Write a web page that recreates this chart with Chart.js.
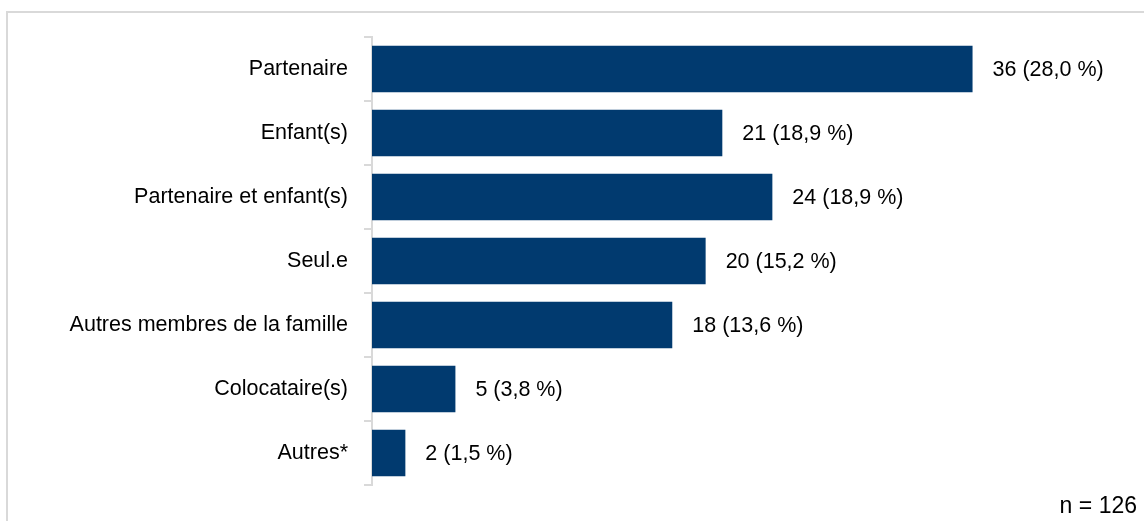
<!DOCTYPE html>
<html>
<head>
<meta charset="utf-8">
<script src="https://cdn.jsdelivr.net/npm/chart.js@4"></script>
<style>
  html, body { margin: 0; padding: 0; background: #fff; overflow: hidden; }
  #wrap { position: relative; width: 1144px; height: 521px; }
  #frame { position: absolute; left: 6px; top: 11px; width: 1200px; height: 600px; border: 2px solid #d9d9d9; }
  canvas { position: absolute; left: 0; top: 0; }
</style>
</head>
<body>
<div id="wrap">
  <div id="frame"></div>
  <canvas id="myChart" width="1144" height="521"></canvas>
</div>
<script>
var categories = ['Partenaire', 'Enfant(s)', 'Partenaire et enfant(s)', 'Seul.e', 'Autres membres de la famille', 'Colocataire(s)', 'Autres*'];
var counts = [36, 21, 24, 20, 18, 5, 2];
var percents = ['28,0 %', '18,9 %', '18,9 %', '15,2 %', '13,6 %', '3,8 %', '1,5 %'];
var sampleNote = 'n = 126';

var FONT = '"Liberation Sans", Arial, sans-serif';

// value labels at the end of each bar + the n note
var labelPlugin = {
    id: 'labels',
    afterDatasetsDraw: function(chart) {
        var ctx = chart.ctx;
        var meta = chart.getDatasetMeta(0);
        ctx.save();
        ctx.font = '21.5px ' + FONT;
        ctx.fillStyle = '#000';
        ctx.textAlign = 'left';
        ctx.textBaseline = 'middle';
        meta.data.forEach(function(bar, i) {
            ctx.fillText(counts[i] + ' (' + percents[i] + ')', bar.x + 20, bar.y + 1);
        });
        ctx.font = '23px ' + FONT;
        ctx.textAlign = 'right';
        ctx.textBaseline = 'alphabetic';
        ctx.fillText(sampleNote, 1137, 513);
        ctx.restore();
    }
};

var ctx = document.getElementById('myChart').getContext('2d');
var myChart = new Chart(ctx, {
    type: 'bar',
    data: {
        labels: categories,
        datasets: [{
            data: counts,
            backgroundColor: '#013a6f',
            borderWidth: 0,
            categoryPercentage: 1,
            barPercentage: 0.73
        }]
    },
    options: {
        indexAxis: 'y',
        responsive: false,
        animation: false,
        layout: { padding: { top: 37, bottom: 36, right: 38, left: 0 } },
        plugins: {
            legend: { display: false },
            tooltip: { enabled: false }
        },
        scales: {
            x: {
                display: false,
                min: 0,
                max: 44
            },
            y: {
                afterFit: function(scale) { scale.width = 372; },
                grid: {
                    offset: true,
                    drawOnChartArea: false,
                    color: '#d9d9d9',
                    lineWidth: 2,
                    tickLength: 8
                },
                border: { color: '#d9d9d9', width: 2 },
                ticks: {
                    color: '#000',
                    padding: 16,
                    font: { size: 21.5, family: FONT }
                }
            }
        }
    },
    plugins: [labelPlugin]
});
</script>
</body>
</html>
